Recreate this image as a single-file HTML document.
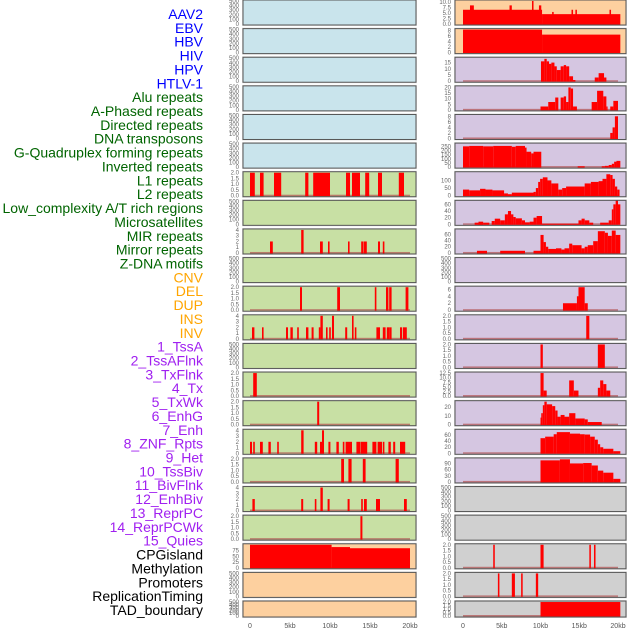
<!DOCTYPE html>
<html><head><meta charset="utf-8"><style>
html,body{margin:0;padding:0;background:#fff;}
svg{display:block;font-family:"Liberation Sans",sans-serif;}
</style></head><body>
<svg id="chart" width="630" height="630" viewBox="0 0 630 630"></svg>
<script>
const trackLabels=["AAV2","EBV","HBV","HIV","HPV","HTLV-1","Alu repeats","A-Phased repeats","Directed repeats","DNA transposons","G-Quadruplex forming repeats","Inverted repeats","L1 repeats","L2 repeats","Low_complexity A/T rich regions","Microsatellites","MIR repeats","Mirror repeats","Z-DNA motifs","CNV","DEL","DUP","INS","INV","1_TssA","2_TssAFlnk","3_TxFlnk","4_Tx","5_TxWk","6_EnhG","7_Enh","8_ZNF_Rpts","9_Het","10_TssBiv","11_BivFlnk","12_EnhBiv","13_ReprPC","14_ReprPCWk","15_Quies","CPGisland","Methylation","Promoters","ReplicationTiming","TAD_boundary"];
const labelColors=[].concat(Array(6).fill("#0000ff"),Array(13).fill("#006400"),Array(5).fill("#ffa500"),Array(15).fill("#a020f0"),Array(5).fill("#000000"));
const xTickVals=[0,5,10,15,20];
const xTickLabels=["0","5kb","10kb","15kb","20kb"];
const E500=[0,100,200,300,400,500];
const T2=[0,0.5,1,1.5,2];
const T4=[0,1,2,3,4];
const midBg=["b","b","b","b","b","b","g","g","g","g","g","g","g","g","g","g","g","g","g","o","o","o"];
const midMax=[500,500,500,500,500,500,2,500,4,500,2,4,500,2,2,4,2,4,2,100,500,500];
const midTicks=[E500,E500,E500,E500,E500,E500,T2,E500,T4,E500,T2,T4,E500,T2,T2,T4,T2,T4,T2,[0,25,50,75],E500,E500];
const midBars=[[],[],[],[],[],[],
[[0,0.6,2],[1.25,1.7,2],[3,3.9,2],[6.9,7.3,2],[7.9,10,2],[12,12.5,2],[12.75,13.75,2],[14.4,14.9,2],[16,16.5,2],[18.6,19.25,2]],
[],
[[2.5,2.85,2],[6.4,6.7,4],[8.75,9.1,2],[9.75,9.95,2],[12.25,12.45,2],[13.9,14.2,2],[14.25,14.6,2],[16,16.25,2],[16.6,16.8,2]],
[],
[[6.25,6.5,2],[10.9,11.25,2],[15.6,15.8,2],[17,17.3,2],[17.4,17.7,2],[19.45,19.8,2]],
[[0.25,0.55,2],[1.5,1.7,2],[4.5,4.75,2],[5.05,5.35,2],[5.9,6.1,2],[7,7.3,2],[7.7,7.95,2],[8.6,8.8,2],[8.8,9.1,4],[9.5,9.7,2],[9.9,10.1,2],[10.25,10.5,4],[11.9,12.15,2],[12.75,12.95,4],[13.1,13.3,2],[15.8,16.25,2],[16.6,16.95,2],[17.1,17.4,2],[17.4,17.7,2],[18.75,19,2],[19.1,19.6,2]],
[],
[[0.4,0.85,2]],
[[8.4,8.65,2]],
[[0,0.25,2],[0.4,0.6,2],[1.25,1.6,2],[2.3,2.6,2],[3.4,3.6,2],[6.4,6.7,4],[8.1,8.4,2],[8.75,9,2],[9,9.25,4],[9.8,10.05,2],[10.8,11.1,2],[11.6,11.8,2],[11.95,12.75,2],[13.3,13.75,2],[13.8,14.65,2],[15.3,15.8,2],[15.95,16.5,2],[16.6,16.8,2],[17.3,17.6,2],[17.9,18.15,2],[18.75,19.4,2]],
[[11.4,11.75,2],[12.3,12.7,2],[14.1,14.45,2],[18.2,18.6,2]],
[[0.3,0.6,2],[6.4,6.65,2],[8.1,8.3,2],[8.8,9.1,4],[9.7,9.95,2],[12.2,12.45,2],[13.9,14.1,2],[14.25,14.6,2],[15.75,16.25,2],[19.25,19.6,2]],
[[13.8,14.05,2]],
[[0,10.2,100],[10.2,12.5,90],[12.5,20,85]],
[],[]];
const rightBg=["o","o","p","p","p","p","p","p","p","p","p","p","p","p","p","p","p","r","r","r","r","r"];
const rightMax=[10.5,8.3,18.5,20.5,8.3,277,150,69,74,500,6.6,2,2,12.5,26,76,112,500,500,2,2,2];
const rightTicks=[[0,2.5,5,7.5,10],[0,2,4,6,8],[0,5,10,15],[0,5,10,15,20],[0,2,4,6,8],[0,50,100,150,200,250],[0,50,100],[0,20,40,60],[0,20,40,60],E500,[0,2,4,6],T2,T2,[0,2.5,5,7.5,10,12.5],[0,10,20],[0,20,40,60],[0,30,60,90],E500,E500,T2,T2,T2];
const rightBars=[
[[0,10.2,6.5],[0.9,1.4,8.5],[6,6.3,8.5],[8.9,9.1,10.5],[9.8,10.1,8.5],[10.2,20.3,4.5],[11.5,11.7,5.5],[14,14.2,6.5],[14.5,14.7,6.5],[18.9,19.1,6.5]],
[[0,10.2,8.3],[10.2,20.3,6.5]],
[[10.06,10.5,16],[10.5,10.8,18],[10.8,11.1,16],[11.1,11.4,14],[11.4,11.8,15],[11.8,12.1,12],[12.1,12.6,9],[12.6,13,12],[13,13.3,13],[13.3,13.7,12],[13.7,14.2,4],[14.2,14.5,1],[17,17.5,3],[17.5,18.2,6.5],[18.2,18.5,3]],
[[10,11,3],[11,11.9,7],[11.9,12.3,11],[12.6,13,11],[13,13.3,12],[13.3,13.6,7],[13.6,13.9,20],[13.9,14.2,19],[14.2,14.7,3],[16.6,17.3,7],[17.3,18.1,17],[18.1,18.5,12],[18.5,18.6,3],[19,19.4,3],[19.4,20,8]],
[[19,19.3,2],[19.3,19.6,4],[19.6,20,8]],
[[0,0.8,250],[0.8,2.6,255],[2.6,3.9,250],[3.9,6.3,255],[6.3,6.8,245],[6.8,8,255],[8,8.2,235],[8.2,8.8,185],[8.8,9.1,165],[9.1,10.1,185],[14.8,15.7,10],[17.9,18.3,10],[18.3,18.8,15],[18.8,19.2,25],[19.2,19.5,40],[19.5,19.8,65],[19.8,20.3,75]],
[[0,0.8,40],[0.8,2.2,35],[2.2,2.9,45],[2.9,3.8,40],[3.8,5.3,35],[5.3,5.8,15],[5.8,6.3,10],[6.3,9.1,20],[9.1,9.4,25],[9.4,9.7,50],[9.7,9.95,90],[9.95,10.3,110],[10.3,10.9,120],[10.9,11.4,100],[11.4,12.3,80],[12.3,12.8,40],[12.8,13.3,50],[13.3,15.7,60],[15.7,16.5,80],[16.5,17.5,90],[17.5,18,95],[18,18.5,110],[18.5,19,140],[19,19.3,135],[19.3,19.6,110],[19.6,19.9,60],[19.9,20.2,40]],
[[1.5,2.6,5],[2,2.6,8],[2.6,3.4,5],[3.7,4.1,10],[4.1,4.8,17],[4.8,5.4,12],[5.4,5.8,30],[5.8,6.2,40],[6.2,6.5,30],[6.5,6.8,22],[6.8,7.6,18],[7.6,8,12],[8,8.6,6],[8.6,9.1,8],[9.1,9.5,20],[9.5,10.2,25],[10.2,14.9,2],[14.9,15.3,12],[15.3,15.7,17],[15.7,16.3,12],[16.3,16.8,5],[17.7,18.8,5],[18.8,19.2,12],[19.2,19.4,45],[19.4,19.7,60],[19.7,20,72],[20,20.3,60]],
[[1.8,3.1,7],[4.8,8,7],[9.1,10,7],[10,10.4,58],[10.4,10.7,35],[10.7,11,20],[11,12,13],[12,12.7,15],[12.7,13.1,11],[13.1,13.7,15],[13.7,14.1,30],[14.1,15.3,25],[15.3,15.7,15],[15.7,16.1,20],[16.1,16.8,25],[16.8,17.4,38],[17.4,18.3,70],[18.3,18.7,65],[18.7,19.2,55],[19.2,19.7,72],[19.7,20.3,58]],
[],
[[12.9,14.7,2],[14.7,14.9,4],[14.9,15.7,6.6],[15.7,16.1,2]],
[[15.9,16.3,2]],
[[10,10.3,2],[17.4,18.3,2]],
[[10,10.4,12.5],[10.4,10.8,3],[13.7,14.3,8.5],[14.3,14.9,3],[17.4,17.7,4.5],[17.7,18.1,8.5],[18.1,18.5,6.5],[18.5,19,3]],
[[10,10.1,8],[10.1,10.3,13],[10.3,10.5,22],[10.5,10.8,26],[10.8,11.5,23],[11.5,11.9,21],[11.9,12.2,16],[12.2,12.6,9],[12.6,13.1,11],[13.1,13.7,9],[13.7,14.5,13],[14.5,15.7,7],[15.7,16.1,6],[16.1,17.9,3]],
[[10,10.6,50],[10.6,11.7,55],[11.7,12.1,63],[12.1,13.8,70],[13.8,15.1,65],[15.1,15.7,63],[15.7,16.4,62],[16.4,17,55],[17,17.4,45],[17.4,17.7,30],[17.7,18.1,20],[18.1,19.4,15],[19.4,20.3,7]],
[[10,12.5,105],[12.5,13.8,110],[13.8,15.5,90],[15.5,16.6,92],[16.6,17.4,80],[17.4,18.1,55],[18.1,19.4,45],[19.4,20.3,15]],
[],[],
[[3.9,4.1,2],[10,10.4,2],[16.3,16.5,2],[16.9,17.1,2]],
[[4.5,4.7,2],[6.3,6.7,2],[7.5,7.7,2],[9.4,9.7,2]],
[[10,20.3,2]]];

const NS="http://www.w3.org/2000/svg";
const svg=document.getElementById("chart");
const bgColors={b:"#c9e4ec",g:"#c8e0a4",o:"#fdd09f",p:"#d5c6e1",r:"#d0d0d0"};
function mk(tag,attrs,parent){const e=document.createElementNS(NS,tag);for(const k in attrs)e.setAttribute(k,attrs[k]);(parent||svg).appendChild(e);return e;}
function fmt(v,ticks){const dec=ticks.some(t=>t%1!==0)||(ticks[ticks.length-1]<=2&&ticks.length===5);return dec?v.toFixed(1):String(v);}
const cols=[{x0:243,x1:416,xs:250,kb:8,tx:239,bg:midBg,max:midMax,ticks:midTicks,bars:midBars,name:"middle"},
            {x0:455,x1:626,xs:463,kb:7.75,tx:451,bg:rightBg,max:rightMax,ticks:rightTicks,bars:rightBars,name:"right"}];
trackLabels.forEach((t,i)=>{
  const el=mk("text",{x:203,y:(19+i*13.86).toFixed(1),"text-anchor":"end","font-size":"14",fill:labelColors[i]});
  el.textContent=t;
  
  
});
cols.forEach(c=>{
  const xmap=kb=>c.xs+kb*c.kb;
  for(let i=0;i<22;i++){
    const top=i*28.62, h=(i===21?16:25);
    const g=mk("g",{});
    
    
    mk("rect",{x:c.x0-1,y:top-1,width:c.x1-c.x0+2,height:h+2,fill:"#e4e4e4"},g);
    mk("rect",{x:c.x0,y:top,width:c.x1-c.x0,height:h,fill:bgColors[c.bg[i]]},g);
    const y0=top+h-1, yt=top+1, ymap=v=>y0-(v/c.max[i])*(y0-yt);
    const bars=c.bars[i];
    if(bars.length){
      const bl=mk("rect",{x:xmap(0),y:y0-1,width:xmap(20)-xmap(0),height:1.5,fill:"#b05050",opacity:"0.7"},g);
      
      
    }
    bars.forEach(b=>{
      const yy=Math.max(yt-1,ymap(b[2]));
      const r=mk("rect",{x:xmap(b[0]).toFixed(2),y:yy.toFixed(2),width:Math.max(1.2,xmap(b[1])-xmap(b[0])).toFixed(2),height:(y0-yy+0.5).toFixed(2),fill:"#ff0000"},g);
      
      
    });
    mk("rect",{x:c.x0,y:top,width:c.x1-c.x0,height:h,fill:"none",stroke:"#555","stroke-width":"1"},g);
    c.ticks[i].forEach(v=>{
      const tl=mk("text",{x:c.tx,y:(ymap(v)+2).toFixed(1),"text-anchor":"end","font-size":"6",fill:"#666"},g);
      tl.textContent=fmt(v,c.ticks[i]);
      
      
    });
  }
  xTickVals.forEach((v,j)=>{
    const tl=mk("text",{x:xmap(v),y:628,"text-anchor":"middle","font-size":"7",fill:"#555"});
    tl.textContent=xTickLabels[j];
    
    
  });
});
</script>
</body></html>
